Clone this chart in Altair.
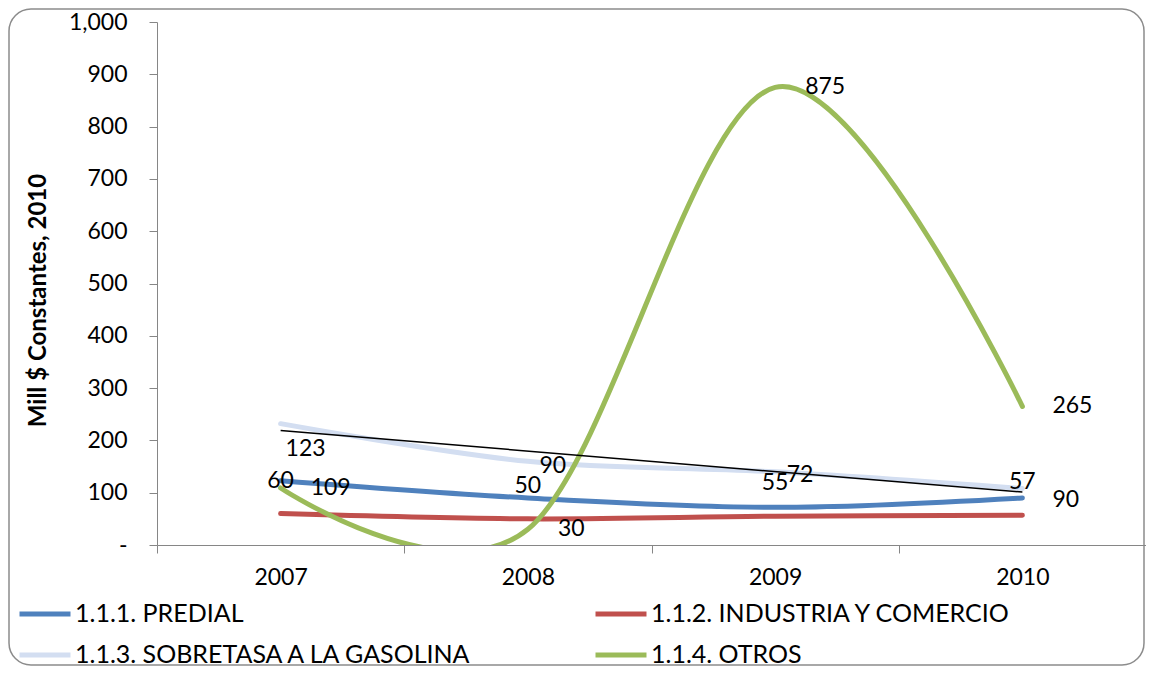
import altair as alt
import pandas as pd

years = [2007, 2008, 2009, 2010]
series_names = ["1.1.1. PREDIAL", "1.1.2. INDUSTRIA Y COMERCIO",
                "1.1.3. SOBRETASA A LA GASOLINA", "1.1.4. OTROS"]
predial = [123, 90, 72, 90]
industria = [60, 50, 55, 57]
sobretasa = [232, 160, 140, 108]
otros = [109, 30, 875, 265]
colors = ["#4F81BD", "#C0504D", "#D3DEF1", "#9BBB59"]

rows = []
for name, vals in zip(series_names, [predial, industria, sobretasa, otros]):
    for y, v in zip(years, vals):
        rows.append({"year": y, "series": name, "value": v})
df = pd.DataFrame(rows)

FONT = "Lato"

xenc = alt.X("year:O", bandPosition=0.5,
             scale=alt.Scale(type="band", paddingInner=0, paddingOuter=0),
             axis=alt.Axis(title=None, tickBand="extent", labelAngle=0, labelFontSize=23,
                           labelPadding=13, tickSize=8, domainColor="#868686",
                           tickColor="#868686", labelColor="black", grid=False, zindex=1))
yenc = alt.Y("value:Q", scale=alt.Scale(domain=[0, 1000], nice=False),
             axis=alt.Axis(title="Mill $ Constantes, 2010", values=list(range(0, 1001, 100)),
                           labelExpr="datum.value == 0 ? '-' : format(datum.value, ',')",
                           labelFontSize=23, labelPadding=22, tickSize=8,
                           domainColor="#868686", tickColor="#868686", grid=False,
                           titleFontSize=24, titleFontWeight="bold", titleX=-107,
                           titleY=278,
                           labelColor="black", titleColor="black", zindex=1))

frame = alt.Chart(pd.DataFrame({"a": [0]})).mark_rect(
    fill="white", stroke="#8c8c8c", strokeWidth=1.5, cornerRadius=22
).encode(x=alt.value(-148), x2=alt.value(987), y=alt.value(-13), y2=alt.value(643))

lines = alt.Chart(df).mark_line(interpolate="cardinal", strokeWidth=5, clip=True,
                                strokeCap="round").encode(
    x=xenc, y=yenc,
    color=alt.Color("series:N", sort=series_names,
                    scale=alt.Scale(domain=series_names, range=colors),
                    legend=alt.Legend(title=None, orient="none", legendX=-140, legendY=564,
                                      columns=2, direction="horizontal",
                                      columnPadding=112, rowPadding=0,
                                      symbolType="stroke", symbolSize=2600,
                                      symbolStrokeWidth=5, labelFontSize=25,
                                      labelFont=FONT, labelOffset=2, labelLimit=600,
                                      labelColor="black")),
    order=alt.Order("year:Q"),
)

trend = alt.Chart(df[df["series"] == series_names[2]]).transform_regression(
    "year", "value").mark_line(color="black", strokeWidth=1.5, clip=True).encode(
    x=alt.X("year:O", bandPosition=0.5), y="value:Q")

lab_style = dict(fontSize=23, font=FONT, color="black")
ind_labels = alt.Chart(df[df["series"] == series_names[1]]).mark_text(
    dy=-33, align="center", **lab_style).encode(
    x=alt.X("year:O", bandPosition=0.5), y="value:Q", text="value:Q")
otros_labels = alt.Chart(df[df["series"] == series_names[3]]).mark_text(
    dx=30, align="left", **lab_style).encode(
    x=alt.X("year:O", bandPosition=0.5), y="value:Q", text="value:Q")
pred_df = df[df["series"] == series_names[0]]
pred_labels_a = alt.Chart(pred_df[pred_df["year"] < 2010]).mark_text(
    dx=25, dy=-32, align="center", **lab_style).encode(
    x=alt.X("year:O", bandPosition=0.5), y="value:Q", text="value:Q")
pred_labels_b = alt.Chart(pred_df[pred_df["year"] == 2010]).mark_text(
    dx=30, dy=2, align="left", **lab_style).encode(
    x=alt.X("year:O", bandPosition=0.5), y="value:Q", text="value:Q")

chart = alt.layer(frame, lines, trend, ind_labels, otros_labels, pred_labels_a,
                  pred_labels_b).properties(
    width=989, height=523,
    padding={"left": 149, "top": 14, "right": 0, "bottom": 122},
    autosize=alt.AutoSizeParams(type="none"),
).configure_view(stroke=None).configure_axis(labelFont=FONT, titleFont=FONT)

chart.save("out.html", embed_options={"renderer": "svg", "actions": False})
